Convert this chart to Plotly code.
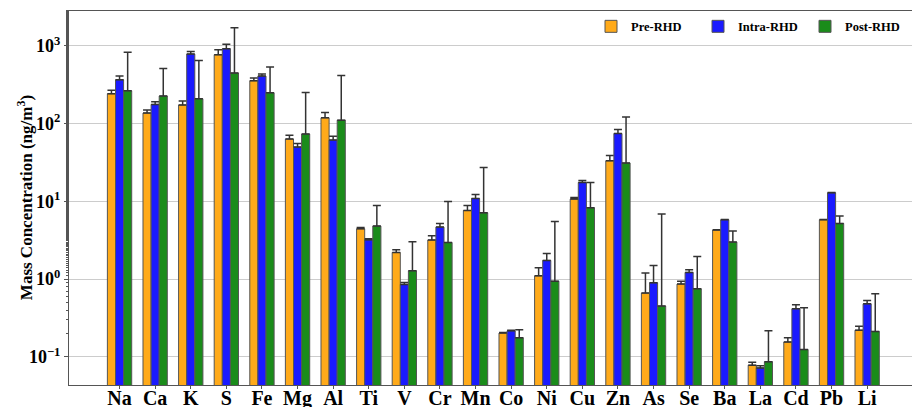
import plotly.graph_objects as go

elements = ["Na", "Ca", "K", "S", "Fe", "Mg", "Al", "Ti", "V", "Cr", "Mn",
            "Co", "Ni", "Cu", "Zn", "As", "Se", "Ba", "La", "Cd", "Pb", "Li"]

pre_rhd = [243, 137, 174, 771, 357, 63.5, 119, 4.44, 2.2, 3.18, 7.64,
           0.202, 1.10, 10.7, 33.3, 0.66, 0.863, 4.27, 0.078, 0.155, 5.8, 0.22]
intra_rhd = [367, 177, 787, 920, 410, 50, 61.5, 3.2, 0.853, 4.67, 10.9,
             0.216, 1.74, 17.5, 74.8, 0.896, 1.22, 5.8, 0.072, 0.415, 12.9, 0.48]
post_rhd = [265, 227, 209, 448, 250, 73.5, 111, 4.81, 1.28, 2.96, 7.13,
            0.176, 0.94, 8.27, 31.1, 0.449, 0.75, 2.99, 0.0863, 0.124, 5.2, 0.212]

pre_err = [27, 13, 22, 122, 29, 7.5, 20, 0.16, 0.18, 0.42, 1.21,
           0.003, 0.30, 0.5, 5.6, 0.54, 0.077, 0.05, 0.007, 0.021, 0.06, 0.028]
intra_err = [43, 14, 63, 130, 25, 5.6, 7.5, 0.1, 0.05, 0.53, 1.4,
             0.004, 0.40, 1.1, 9.2, 0.60, 0.10, 0.06, 0.0046, 0.052, 0.1, 0.05]
post_err = [565, 286, 441, 1267, 285, 178, 307, 4.04, 1.74, 7.04, 20.2,
            0.047, 4.58, 9.2, 91, 6.41, 1.2, 1.16, 0.13, 0.303, 1.27, 0.434]

series = [
    ("Pre-RHD", pre_rhd, pre_err, "#FFAA1A"),
    ("Intra-RHD", intra_rhd, intra_err, "#1A1AFF"),
    ("Post-RHD", post_rhd, post_err, "#1A8C1A"),
]

ytick_vals = [0.1, 1, 10, 100, 1000]
ytick_text = ["10<sup>−1</sup>", "10<sup>0</sup>", "10<sup>1</sup>", "10<sup>2</sup>", "10<sup>3</sup>"]
y_title = "Mass Concentration (ng/m<sup>3</sup>)"

FONT = "Liberation Serif"

fig = go.Figure()
for name, vals, errs, color in series:
    fig.add_trace(go.Bar(
        x=elements, y=vals, name=name,
        marker=dict(color=color, line=dict(color="#555555", width=1)),
        error_y=dict(type="data", symmetric=False, array=errs,
                     arrayminus=[0] * len(errs),
                     color="#333333", thickness=1.5, width=4),
    ))

fig.update_layout(
    width=912, height=407,
    margin=dict(l=69, r=0, t=11, b=22),
    paper_bgcolor="white", plot_bgcolor="white",
    barmode="group", bargap=0.317, bargroupgap=0,
    font=dict(family=FONT, color="black", weight="bold"),
    legend=dict(orientation="h", x=1.0, xanchor="right", y=0.958, yanchor="middle",
                entrywidth=62, entrywidthmode="pixels",
                font=dict(family=FONT, size=12.5, weight="bold"),
                bgcolor="rgba(0,0,0,0)"),
    annotations=[dict(
        text=y_title, xref="paper", yref="paper", x=-0.052, y=0.5,
        xanchor="center", yanchor="middle", textangle=-90, showarrow=False,
        font=dict(family=FONT, size=17, weight="bold", color="black"),
    )],
)

fig.update_xaxes(
    range=[-1.42, 22.26], autorange=False, showline=True, linecolor="#555555", linewidth=1,
    mirror=True, ticks="outside", ticklen=3, tickcolor="#555555",
    tickfont=dict(family=FONT, size=20, weight="bold"), showgrid=False,
    ticklabelstandoff=-8,
    automargin=False,
)
fig.update_yaxes(
    type="log", range=[-1.363, 3.45],
    tickvals=ytick_vals, ticktext=ytick_text,
    showline=True, linecolor="#555555", linewidth=1, mirror=False,
    ticks="outside", ticklen=4, tickcolor="#555555",
    tickfont=dict(family=FONT, size=18, weight="bold"),
    showgrid=True, gridcolor="#CCCCCC", gridwidth=1,
    minor=dict(ticks="outside", ticklen=2, tickcolor="#555555", showgrid=False),
    automargin=False,
)

fig.write_html(
    "out.html",
    config={"displayModeBar": False},
    post_script="document.body.style.margin='0';document.body.style.overflow='hidden';",
)
